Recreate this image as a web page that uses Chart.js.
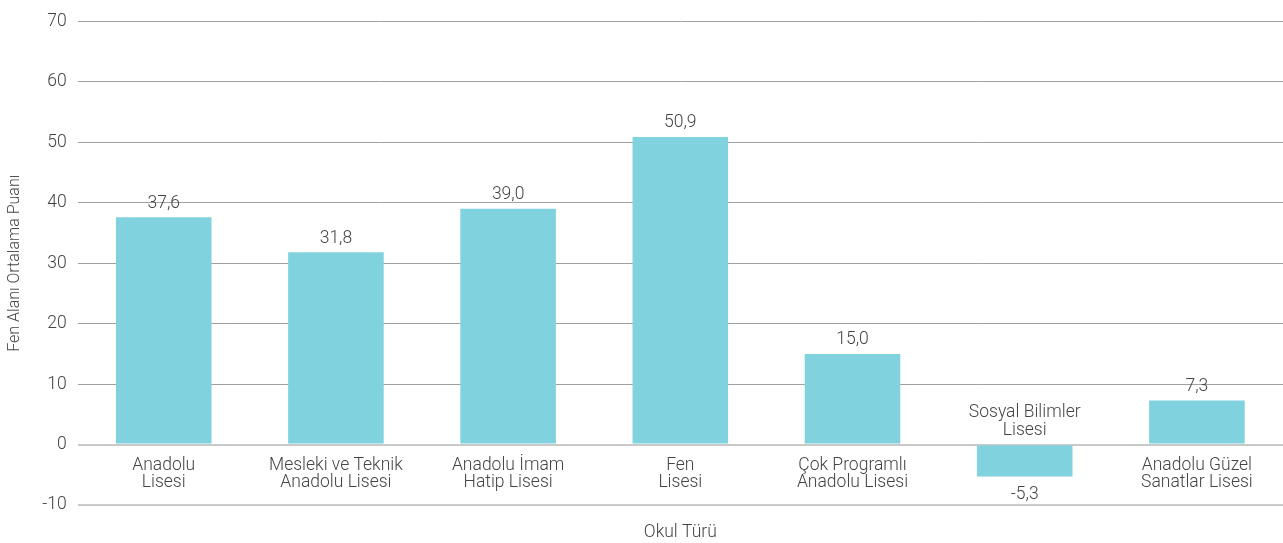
<!DOCTYPE html>
<html>
<head>
<meta charset="utf-8">
<script src="https://cdn.jsdelivr.net/npm/chart.js@4"></script>
<style>
  html, body { margin: 0; padding: 0; background: #fff; }
  #wrap { width: 1283px; height: 543px; position: relative; }
</style>
</head>
<body>
<div id="wrap"><canvas id="chartFen"></canvas></div>
<script>
// okul türleri (iki satır)
const okulTurleri = [
  ['Anadolu', 'Lisesi'],
  ['Mesleki ve Teknik', 'Anadolu Lisesi'],
  ['Anadolu İmam', 'Hatip Lisesi'],
  ['Fen', 'Lisesi'],
  ['Çok Programlı', 'Anadolu Lisesi'],
  ['Sosyal Bilimler', 'Lisesi'],
  ['Anadolu Güzel', 'Sanatlar Lisesi']
];
const fenPuanlari = [37.6, 31.8, 39.0, 50.9, 15.0, -5.3, 7.3];
const yMin = -10;
const yMax = 70;
const yStep = 10;

const yaziRengi = '#444444';
const yaziFont = '"Roboto", "DejaVu Sans", sans-serif';

// bar etiketleri ve kategori adları sıfır çizgisine göre
const etiketPlugin = {
  id: 'etiketler',
  afterDatasetsDraw(chart) {
    const ctx = chart.ctx;
    const meta = chart.getDatasetMeta(0);
    const sifir = chart.scales.y.getPixelForValue(0);
    ctx.save();
    ctx.fillStyle = yaziRengi;
    ctx.font = '300 17.5px ' + yaziFont;
    ctx.textAlign = 'center';
    ctx.textBaseline = 'middle';
    meta.data.forEach((bar, i) => {
      const deger = fenPuanlari[i];
      const metin = deger.toFixed(1).replace('.', ',');
      const satirlar = okulTurleri[i];
      if (deger >= 0) {
        ctx.fillText(metin, bar.x, bar.y - 14);
        ctx.fillText(satirlar[0], bar.x, sifir + 21);
        ctx.fillText(satirlar[1], bar.x, sifir + 38);
      } else {
        ctx.fillText(metin, bar.x, bar.y + 18);
        ctx.fillText(satirlar[0], bar.x, sifir - 32);
        ctx.fillText(satirlar[1], bar.x, sifir - 14);
      }
    });
    ctx.restore();
  }
};

const ctx = document.getElementById('chartFen').getContext('2d');
new Chart(ctx, {
  type: 'bar',
  data: {
    labels: okulTurleri.map(l => l.join(' ')),
    datasets: [{
      data: fenPuanlari,
      backgroundColor: '#80d2de',
      borderWidth: 0,
      barPercentage: 0.555,
      categoryPercentage: 1.0
    }]
  },
  options: {
    responsive: true,
    maintainAspectRatio: false,
    animation: false,
    layout: { padding: { top: 12, right: 0, left: 1, bottom: 0 } },
    plugins: {
      legend: { display: false },
      tooltip: { enabled: false }
    },
    scales: {
      x: {
        grid: { display: false },
        border: { display: false },
        ticks: { display: false },
        title: {
          display: true,
          text: 'Okul Türü',
          color: yaziRengi,
          font: { family: yaziFont, size: 17.5, weight: '300' },
          padding: { top: 9, bottom: 0 }
        }
      },
      y: {
        min: yMin,
        max: yMax,
        border: { display: false },
        grid: {
          drawTicks: false,
          color: c => (c.tick.value === 0 || c.tick.value === yMin) ? '#c9c9c9' : '#a0a0a0',
          lineWidth: c => (c.tick.value === 0 || c.tick.value === yMin) ? 2 : 1
        },
        ticks: {
          stepSize: yStep,
          padding: 11,
          color: yaziRengi,
          font: { family: yaziFont, size: 17.5, weight: '300' }
        },
        title: {
          display: true,
          text: 'Fen Alanı Ortalama Puanı',
          color: yaziRengi,
          font: { family: yaziFont, size: 16, weight: '300' },
          padding: { top: 4, bottom: 7 }
        }
      }
    }
  },
  plugins: [etiketPlugin]
});
</script>
</body>
</html>
